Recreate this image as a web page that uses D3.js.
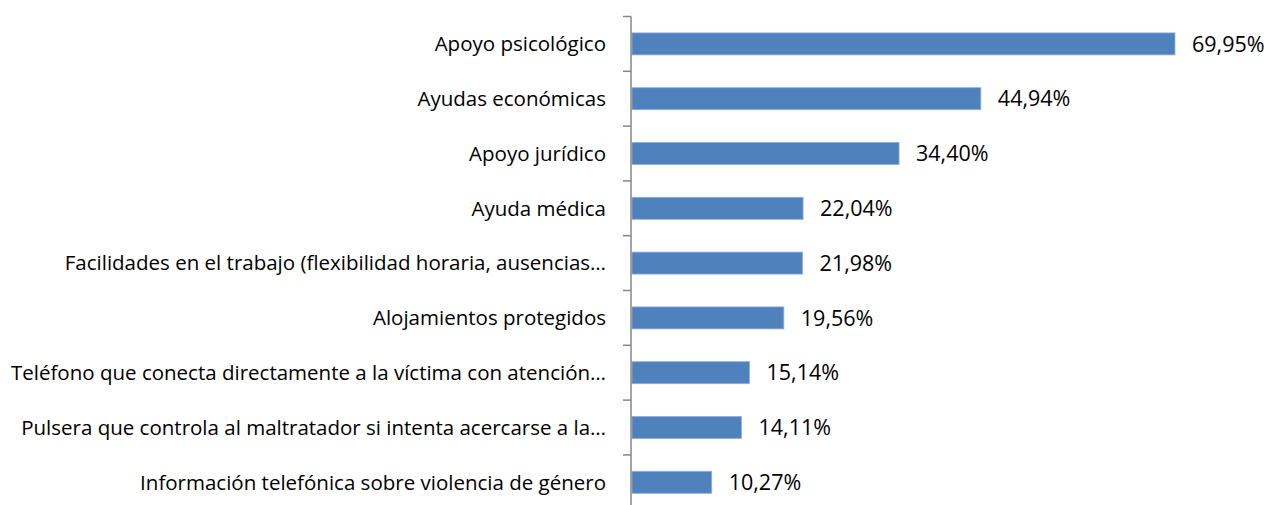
<!DOCTYPE html>
<html>
<head>
<meta charset="utf-8">
<script src="https://cdn.jsdelivr.net/npm/d3@7"></script>
<style>
  body { margin: 0; background: #fff; }
  text { font-family: "Open Sans", sans-serif; fill: #000; }
</style>
</head>
<body>
<div id="chart"></div>
<script>
var categories = [
  "Apoyo psicológico",
  "Ayudas económicas",
  "Apoyo jurídico",
  "Ayuda médica",
  "Facilidades en el trabajo (flexibilidad horaria, ausencias…",
  "Alojamientos protegidos",
  "Teléfono que conecta directamente a la víctima con atención…",
  "Pulsera que controla al maltratador si intenta acercarse a la…",
  "Información telefónica sobre violencia de género"
];
var values = [69.95, 44.94, 34.40, 22.04, 21.98, 19.56, 15.14, 14.11, 10.27];
var valueLabels = ["69,95%", "44,94%", "34,40%", "22,04%", "21,98%", "19,56%", "15,14%", "14,11%", "10,27%"];

var svgWidth = 1273, svgHeight = 505;
var axisX = 631;

var svg = d3.select("#chart").append("svg")
  .attr("width", svgWidth)
  .attr("height", svgHeight);

var x = d3.scaleLinear()
  .domain([0, 80])
  .range([axisX + 1, axisX + 1 + 621]);

var y = d3.scaleBand()
  .domain(categories)
  .range([16.5, 16.5 + 9 * 54.8])
  .padding(0);

var barH = 22;

// bars
svg.selectAll("rect.bar")
  .data(values)
  .enter().append("rect")
  .attr("class", "bar")
  .attr("x", x(0))
  .attr("y", (d, i) => y(categories[i]) + y.bandwidth() / 2 - barH / 2)
  .attr("width", d => x(d) - x(0))
  .attr("height", barH)
  .attr("fill", "#4f81bd")
  .attr("stroke", "#8eb0db")
  .attr("stroke-width", 0.8);

// value labels
svg.selectAll("text.val")
  .data(values)
  .enter().append("text")
  .attr("class", "val")
  .attr("x", d => x(d) + 17)
  .attr("y", (d, i) => y(categories[i]) + y.bandwidth() / 2)
  .attr("dy", "0.36em")
  .style("font-size", "21.5px")
  .text((d, i) => valueLabels[i]);

// category axis
var axis = svg.append("g");
axis.append("line")
  .attr("x1", axisX).attr("x2", axisX)
  .attr("y1", y.range()[0]).attr("y2", y.range()[1])
  .attr("stroke", "#868686").attr("stroke-width", 1.5);

var ticks = categories.map(c => y(c)).concat([y.range()[1]]);
axis.selectAll("line.tick")
  .data(ticks)
  .enter().append("line")
  .attr("class", "tick")
  .attr("x1", axisX - 8).attr("x2", axisX)
  .attr("y1", d => d).attr("y2", d => d)
  .attr("stroke", "#868686").attr("stroke-width", 1.5);

axis.selectAll("text.cat")
  .data(categories)
  .enter().append("text")
  .attr("class", "cat")
  .attr("x", axisX - 25)
  .attr("y", d => y(d) + y.bandwidth() / 2)
  .attr("dy", "0.36em")
  .attr("text-anchor", "end")
  .style("font-size", "20.5px")
  .text(d => d);
</script>
</body>
</html>
